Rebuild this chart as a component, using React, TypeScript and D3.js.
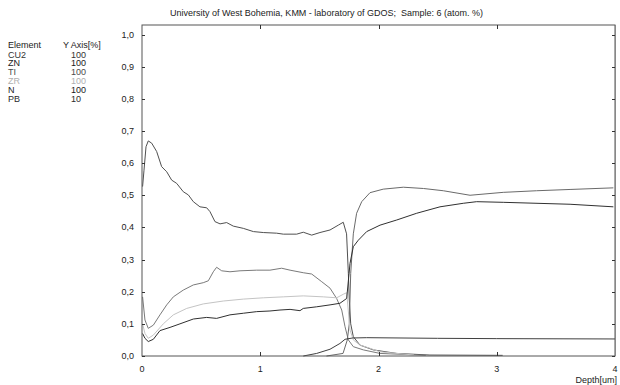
import React from "react";
import * as d3 from "d3";

const title = "University of West Bohemia, KMM - laboratory of GDOS;  Sample: 6 (atom. %)";
const elements = ["CU2", "ZN", "TI", "ZR", "N", "PB"];
const yAxisPct = ["100", "100", "100", "100", "100", "10"];
const xTicks = [0, 1, 2, 3, 4];
const yTicks = [0, 0.1, 0.2, 0.3, 0.4, 0.5, 0.6, 0.7, 0.8, 0.9, 1.0];

const cu2: [number, number][] = [
  [0.005, 0.527], [0.017, 0.578], [0.034, 0.651], [0.053, 0.669], [0.082, 0.662], [0.124, 0.636],
  [0.166, 0.589], [0.209, 0.573], [0.251, 0.547], [0.293, 0.537], [0.349, 0.511], [0.392, 0.501],
  [0.434, 0.48], [0.49, 0.464], [0.547, 0.461], [0.575, 0.449], [0.617, 0.418], [0.66, 0.411],
  [0.716, 0.415], [0.772, 0.404], [0.857, 0.397], [0.942, 0.387], [1.026, 0.384], [1.139, 0.382],
  [1.195, 0.379], [1.308, 0.379], [1.364, 0.385], [1.435, 0.376], [1.505, 0.384], [1.59, 0.392],
  [1.66, 0.407], [1.702, 0.416], [1.73, 0.38], [1.745, 0.257], [1.753, 0.174], [1.765, 0.1],
  [1.787, 0.06], [1.843, 0.034], [1.956, 0.019], [2.154, 0.008], [2.435, 0.003], [3.05, 0.002],
];

const zn: [number, number][] = [
  [0.005, 0.184], [0.025, 0.112], [0.053, 0.086], [0.096, 0.096], [0.152, 0.128], [0.209, 0.159],
  [0.265, 0.184], [0.349, 0.205], [0.434, 0.221], [0.518, 0.228], [0.561, 0.234], [0.603, 0.262],
  [0.631, 0.276], [0.674, 0.265], [0.744, 0.262], [0.829, 0.265], [0.97, 0.267], [1.082, 0.267],
  [1.181, 0.273], [1.252, 0.267], [1.364, 0.259], [1.435, 0.255], [1.52, 0.231], [1.59, 0.211],
  [1.646, 0.179], [1.689, 0.143], [1.717, 0.091], [1.745, 0.05], [1.787, 0.029], [1.872, 0.019],
  [2.013, 0.008], [2.4, 0.002],
];

const ti: [number, number][] = [
  [1.56, 0.0], [1.7, 0.008], [1.736, 0.05], [1.753, 0.1], [1.765, 0.257], [1.787, 0.38],
  [1.815, 0.444], [1.858, 0.48], [1.928, 0.508], [2.04, 0.519], [2.21, 0.525], [2.38, 0.521],
  [2.548, 0.514], [2.774, 0.5], [3.055, 0.509], [3.337, 0.514], [3.62, 0.518], [3.986, 0.523],
];

const zr: [number, number][] = [
  [0.005, 0.1], [0.025, 0.07], [0.053, 0.055], [0.096, 0.065], [0.18, 0.1], [0.265, 0.128],
  [0.378, 0.148], [0.518, 0.162], [0.688, 0.171], [0.857, 0.177], [1.026, 0.181], [1.195, 0.184],
  [1.364, 0.187], [1.533, 0.184], [1.646, 0.181], [1.702, 0.192], [1.731, 0.197], [1.759, 0.081],
  [1.787, 0.05], [1.843, 0.034], [1.928, 0.024], [2.013, 0.013], [2.3, 0.003],
];

const n: [number, number][] = [
  [0.005, 0.07], [0.025, 0.055], [0.053, 0.045], [0.096, 0.052], [0.152, 0.079], [0.237, 0.089],
  [0.321, 0.1], [0.434, 0.115], [0.547, 0.12], [0.631, 0.117], [0.744, 0.128], [0.857, 0.133],
  [0.97, 0.138], [1.082, 0.14], [1.167, 0.143], [1.252, 0.145], [1.336, 0.141], [1.364, 0.148],
  [1.477, 0.153], [1.59, 0.159], [1.674, 0.164], [1.731, 0.179], [1.759, 0.288], [1.787, 0.34],
  [1.829, 0.36], [1.9, 0.387], [2.013, 0.407], [2.154, 0.423], [2.323, 0.444], [2.52, 0.464],
  [2.717, 0.475], [2.83, 0.48], [3.055, 0.478], [3.62, 0.472], [3.986, 0.464],
];

const pb: [number, number][] = [
  [1.364, 0.0], [1.477, 0.008], [1.59, 0.021], [1.674, 0.039], [1.717, 0.052], [1.78, 0.056],
  [1.9, 0.057], [2.5, 0.055], [3.0, 0.054], [4.0, 0.053],
];

const seriesData = [cu2, zn, ti, zr, n, pb];
const seriesColors = ["#505050", "#7a7a7a", "#6a6a6a", "#c4c4c4", "#303030", "#404040"];
const legendColors = ["#333333", "#1a1a1a", "#4a4a4a", "#b0b0b0", "#1a1a1a", "#2a2a2a"];

export default function App() {
  const W = 620, H = 385;
  const x = d3.scaleLinear().domain([0, 4]).range([142, 615]);
  const y = d3.scaleLinear().domain([0, 1]).range([356, 34.5]);
  const top = 25;
  const line = d3.line<[number, number]>().x(d => x(d[0])).y(d => y(d[1]));
  const font = "'Liberation Sans', Arial, sans-serif";
  return (
    <svg width={W} height={H} style={{ position: "absolute", left: 0, top: 0, background: "#fff" }}
      fontFamily={font} fontSize={9}>
      <rect width={W} height={H} fill="#fff" />
      <text x={170} y={16} fill="#222" style={{ whiteSpace: "pre" }}>{title}</text>
      <text x={8} y={48} fill="#222">Element</text>
      <text x={63} y={48} fill="#222">Y Axis[%]</text>
      {elements.map((e, i) => (
        <g key={e} fill={legendColors[i]}>
          <text x={8} y={57.5 + i * 8.9}>{e}</text>
          <text x={71} y={57.5 + i * 8.9}>{yAxisPct[i]}</text>
        </g>
      ))}
      {seriesData.map((s, i) => (
        <path key={i} d={line(s) || ""} fill="none" stroke={seriesColors[i]} strokeWidth={1} />
      ))}
      <rect x={x(0)} y={top} width={x(4) - x(0)} height={y(0) - top} fill="none" stroke="#555" strokeWidth={1} />
      <line x1={x(4) + 0.5} x2={x(4) + 0.5} y1={top} y2={y(0)} stroke="#888" strokeWidth={1} />
      {yTicks.map(t => (
        <g key={t}>
          <line x1={x(0)} x2={x(0) + 3} y1={Math.round(y(t)) + 0.5} y2={Math.round(y(t)) + 0.5} stroke="#333" />
          <line x1={x(4) - 3} x2={x(4)} y1={Math.round(y(t)) + 0.5} y2={Math.round(y(t)) + 0.5} stroke="#333" />
          <text x={134} y={y(t) + 3} textAnchor="end" fill="#222">{t.toFixed(1).replace(".", ",")}</text>
        </g>
      ))}
      {xTicks.map(t => (
        <g key={t}>
          {t > 0 && t < 4 && (
            <>
              <line x1={Math.round(x(t)) + 0.5} x2={Math.round(x(t)) + 0.5} y1={y(0)} y2={y(0) - 4} stroke="#333" />
              <line x1={Math.round(x(t)) + 0.5} x2={Math.round(x(t)) + 0.5} y1={top} y2={top + 4} stroke="#333" />
            </>
          )}
          <text x={x(t)} y={372} textAnchor="middle" fill="#222">{t}</text>
        </g>
      ))}
      <text x={617} y={383} textAnchor="end" fill="#222">Depth[um]</text>
    </svg>
  );
}
